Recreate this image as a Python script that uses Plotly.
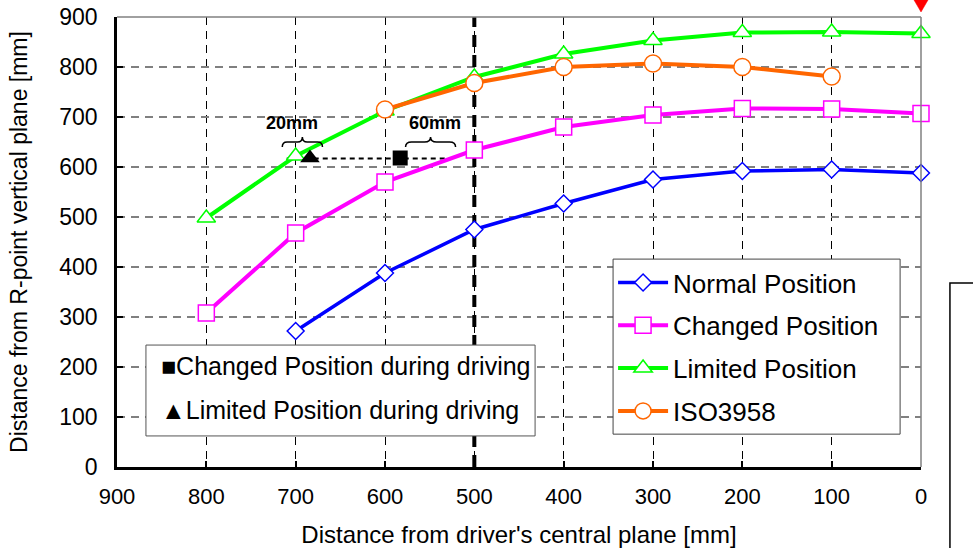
import plotly.graph_objects as go

# ---------------- data ----------------
x_normal = [700, 600, 500, 400, 300, 200, 100, 0]
y_normal = [272, 388, 475, 527, 575, 592, 595, 588]

x_changed = [800, 700, 600, 500, 400, 300, 200, 100, 0]
y_changed = [308, 468, 570, 634, 680, 704, 717, 716, 707]

x_limited = [800, 700, 600, 500, 400, 300, 200, 100, 0]
y_limited = [498, 622, 712, 780, 826, 853, 869, 870, 867]

x_iso = [600, 500, 400, 300, 200, 100]
y_iso = [715, 768, 800, 807, 800, 781]

x_changed_drive = [583]
y_changed_drive = [618]
x_limited_drive = [684]
y_limited_drive = [618]

drive_line_x = [710, 527]
drive_line_y = [617, 617]

brace1_x = [715, 670]
brace2_x = [577, 521]
brace_y = [640, 660]
label_20_pos = [704, 688]
label_60_pos = [544, 688]

ref_line_x = 500

xticks = list(range(0, 1000, 100))
yticks = list(range(0, 1000, 100))

FONT = "Liberation Sans, Arial, sans-serif"

fig = go.Figure()

# thick dashed reference line at 500
fig.add_trace(go.Scatter(x=[ref_line_x, ref_line_x], y=[0, 900], mode="lines",
                         line=dict(color="black", width=4, dash="12px,8px"),
                         showlegend=False, hoverinfo="skip"))

# dashed line for driving positions
fig.add_trace(go.Scatter(x=drive_line_x, y=drive_line_y, mode="lines",
                         line=dict(color="black", width=2, dash="5px,4px"),
                         showlegend=False, hoverinfo="skip"))

series = [
    ("Normal Position", x_normal, y_normal, "#0000FF", "diamond", 13, 3.5),
    ("Changed Position", x_changed, y_changed, "#FF00FF", "square", 16, 4),
    ("Limited Position", x_limited, y_limited, "#00FF00", "triangle-up", 16, 4),
    ("ISO3958", x_iso, y_iso, "#FF6600", "circle", 17, 4),
]
for i, (name, xs, ys, col, sym, sz, lw) in enumerate(series):
    fig.add_trace(go.Scatter(
        x=xs, y=ys, name=name, mode="lines+markers",
        line=dict(color=col, width=lw), cliponaxis=False,
        marker=dict(symbol=sym, size=sz, color="white", line=dict(color=col, width=1.5)),
        legendgroup=f"g{i}",
    ))

fig.add_trace(go.Scatter(x=x_changed_drive, y=y_changed_drive, mode="markers",
                         marker=dict(symbol="square", size=15, color="black"),
                         showlegend=False))
fig.add_trace(go.Scatter(x=x_limited_drive, y=y_limited_drive, mode="markers",
                         marker=dict(symbol="triangle-up", size=17, color="black"),
                         showlegend=False))


def brace_path(xa, xb, y0, y1):
    xm = (xa + xb) / 2
    ymid = (y0 + y1) / 2
    d = (xb - xa) * 0.12
    return (f"M {xa},{y0} Q {xa},{ymid} {xa + d},{ymid} L {xm - d},{ymid} "
            f"Q {xm},{ymid} {xm},{y1} Q {xm},{ymid} {xm + d},{ymid} "
            f"L {xb - d},{ymid} Q {xb},{ymid} {xb},{y0}")


shapes = []
for bx in (brace1_x, brace2_x):
    shapes.append(dict(type="path", xref="x", yref="y",
                       path=brace_path(bx[0], bx[1], brace_y[0], brace_y[1]),
                       line=dict(color="black", width=1.5)))

# top and right borders (gray)
shapes.append(dict(type="line", xref="paper", yref="paper", x0=0, x1=1, y0=1, y1=1,
                   line=dict(color="#808080", width=1.5)))
shapes.append(dict(type="line", xref="paper", yref="paper", x0=1, x1=1, y0=0, y1=1,
                   line=dict(color="#808080", width=1.5)))

# main legend box
shapes.append(dict(type="rect", xref="paper", yref="paper", x0=0.617, x1=0.974,
                   y0=0.073, y1=0.462, fillcolor="white",
                   line=dict(color="#444444", width=1), layer="above"))

# second legend box
shapes.append(dict(type="rect", xref="paper", yref="paper", x0=0.036, x1=0.520,
                   y0=0.069, y1=0.271, fillcolor="white",
                   line=dict(color="#555555", width=1), layer="above"))

# partial box at the right edge
shapes.append(dict(type="rect", xref="paper", yref="paper", x0=1.036, x1=1.3,
                   y0=-0.3, y1=0.409, line=dict(color="black", width=1.5)))

# red marker above the plot at x = 0 (right edge of the reversed axis)
shapes.append(dict(type="path", xref="paper", yref="paper", xsizemode="pixel",
                   ysizemode="pixel", xanchor=1, yanchor=1,
                   path="M -7,17 L 7,17 L 0,5 Z", fillcolor="#FF0000",
                   line=dict(color="#FF0000", width=0.5)))

annotations = [
    dict(x=label_20_pos[0], y=label_20_pos[1], xref="x", yref="y", text="<b>20mm</b>",
         showarrow=False, font=dict(size=18, color="black", family=FONT)),
    dict(x=label_60_pos[0], y=label_60_pos[1], xref="x", yref="y", text="<b>60mm</b>",
         showarrow=False, font=dict(size=18, color="black", family=FONT)),
    dict(x=0.052, y=0.224, xref="paper", yref="paper", xanchor="left", yanchor="middle",
         text="■Changed Position during driving", showarrow=False,
         font=dict(size=25, color="black", family=FONT)),
    dict(x=0.052, y=0.126, xref="paper", yref="paper", xanchor="left", yanchor="middle",
         text="▲Limited Position during driving", showarrow=False,
         font=dict(size=25, color="black", family=FONT)),
]

fig.update_layout(
    width=973, height=548,
    margin=dict(l=117, r=52, t=17, b=81),
    paper_bgcolor="white", plot_bgcolor="white",
    font=dict(family=FONT, color="black"),
    shapes=shapes, annotations=annotations,
    legend=dict(x=0.617, y=0.462, xanchor="left", yanchor="top",
                bgcolor="rgba(0,0,0,0)", borderwidth=0,
                font=dict(size=26, family=FONT), traceorder="grouped",
                tracegroupgap=6, itemwidth=50),
)

fig.update_xaxes(range=[900, 0], tickvals=xticks, ticktext=[str(v) for v in xticks],
                 showgrid=True, gridcolor="black", griddash="8px,6px", gridwidth=1,
                 showline=True, linecolor="black", linewidth=2.5,
                 ticks="inside", ticklen=6, tickcolor="black", tickwidth=1.5,
                 zeroline=False, tickfont=dict(size=22), automargin=False,
                 ticklabelstandoff=8,
                 title=dict(text="Distance from driver's central plane [mm]",
                            font=dict(size=24), standoff=24))
fig.update_yaxes(range=[0, 900], tickvals=yticks,
                 showgrid=True, gridcolor="#808080", griddash="8px,6px", gridwidth=1.5,
                 showline=True, linecolor="black", linewidth=2.5,
                 ticks="inside", ticklen=6, tickcolor="black", tickwidth=1.5,
                 zeroline=False, tickfont=dict(size=23), automargin=False,
                 ticklabelstandoff=12,
                 title=dict(text="Distance from R-point vertical plane [mm]",
                            font=dict(size=23), standoff=26))

fig.write_html("out.html")
